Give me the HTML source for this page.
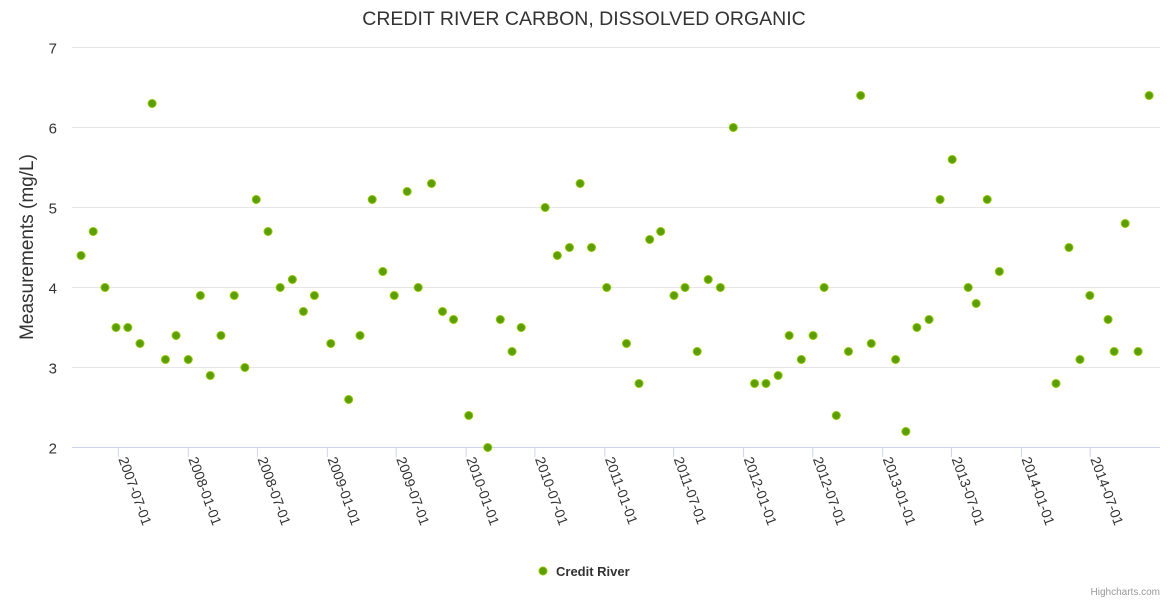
<!DOCTYPE html>
<html><head><meta charset="utf-8"><style>
html,body{margin:0;padding:0;background:#fff;}
svg{display:block;font-family:"Liberation Sans",sans-serif;}
</style></head><body>
<svg id="chart" width="1170" height="600">
<rect width="1170" height="600" fill="#fff"/>
<text x="584" y="25" text-anchor="middle" font-size="19.5" fill="#333">CREDIT RIVER CARBON, DISSOLVED ORGANIC</text>
<g id="grid"></g>
<g id="yaxis"></g>
<g id="xaxis"></g>
<text transform="translate(33,247) rotate(-90)" text-anchor="middle" font-size="19" fill="#333">Measurements (mg/L)</text>
<g id="points"></g>
<g>
<circle cx="543" cy="571" r="4" fill="#5c9e00" stroke="#8cc400" stroke-width="1"/>
<text x="556" y="576" font-size="13" font-weight="bold" fill="#333">Credit River</text>
</g>
<text x="1160" y="595" text-anchor="end" font-size="10" fill="#999">Highcharts.com</text>
</svg>
<script>
const dates=["2007-03-25","2007-04-26","2007-05-27","2007-06-25","2007-07-26","2007-08-27","2007-09-28","2007-11-02","2007-11-30","2008-01-01","2008-02-02","2008-02-28","2008-03-27","2008-05-01","2008-05-29","2008-06-28","2008-07-29","2008-08-30","2008-10-01","2008-10-30","2008-11-28","2009-01-10","2009-02-26","2009-03-28","2009-04-29","2009-05-27","2009-06-26","2009-07-30","2009-08-28","2009-10-02","2009-10-31","2009-11-29","2010-01-08","2010-02-27","2010-04-01","2010-05-02","2010-05-26","2010-07-28","2010-08-29","2010-09-30","2010-10-28","2010-11-27","2011-01-06","2011-02-27","2011-04-01","2011-04-29","2011-05-28","2011-07-02","2011-07-31","2011-09-01","2011-09-30","2011-11-01","2011-12-05","2012-01-30","2012-02-29","2012-04-01","2012-04-30","2012-06-01","2012-07-02","2012-07-31","2012-09-01","2012-10-03","2012-11-04","2012-12-02","2013-02-04","2013-03-03","2013-04-01","2013-05-03","2013-06-01","2013-07-03","2013-08-14","2013-09-04","2013-10-03","2013-11-04","2014-04-02","2014-05-06","2014-06-04","2014-06-30","2014-08-17","2014-09-02","2014-10-01","2014-11-04","2014-12-03"];
const values=[4.4,4.7,4.0,3.5,3.5,3.3,6.3,3.1,3.4,3.1,3.9,2.9,3.4,3.9,3.0,5.1,4.7,4.0,4.1,3.7,3.9,3.3,2.6,3.4,5.1,4.2,3.9,5.2,4.0,5.3,3.7,3.6,2.4,2.0,3.6,3.2,3.5,5.0,4.4,4.5,5.3,4.5,4.0,3.3,2.8,4.6,4.7,3.9,4.0,3.2,4.1,4.0,6.0,2.8,2.8,2.9,3.4,3.1,3.4,4.0,2.4,3.2,6.4,3.3,3.1,2.2,3.5,3.6,5.1,5.6,4.0,3.8,5.1,4.2,2.8,4.5,3.1,3.9,3.6,3.2,4.8,3.2,6.4];
const xTicks=["2007-07-01","2008-01-01","2008-07-01","2009-01-01","2009-07-01","2010-01-01","2010-07-01","2011-01-01","2011-07-01","2012-01-01","2012-07-01","2013-01-01","2013-07-01","2014-01-01","2014-07-01"];
const yTicks=[2,3,4,5,6,7];
const NS="http://www.w3.org/2000/svg";
const base=Date.UTC(2007,6,1);
function xs(d){const p=d.split("-");const t=Date.UTC(+p[0],+p[1]-1,+p[2]);return 118.3+(t-base)/86400000*0.3801;}
function ys(v){return 447.5-(v-2)*80;}
function mk(tag,attrs,parent){const e=document.createElementNS(NS,tag);for(const k in attrs)e.setAttribute(k,attrs[k]);parent.appendChild(e);return e;}
const grid=document.getElementById("grid"),ya=document.getElementById("yaxis"),xa=document.getElementById("xaxis"),pts=document.getElementById("points");
yTicks.forEach(v=>{
 if(v>2){const l=mk("line",{x1:72,x2:1160,y1:ys(v),y2:ys(v),stroke:"#e6e6e6","stroke-width":1},grid);
 
 }
 const t=mk("text",{x:57,y:ys(v)+6,"text-anchor":"end","font-size":15,fill:"#333"},ya);
 t.textContent=v;
 
 
});
const ax=mk("line",{x1:72,x2:1160,y1:447.5,y2:447.5,stroke:"#ccd6eb","stroke-width":1},xa);


xTicks.forEach(d=>{
 const x=xs(d);
 const tk=mk("line",{x1:x,x2:x,y1:447.5,y2:457,stroke:"#ccd6eb","stroke-width":1},xa);
 
 
 const t=mk("text",{transform:"translate("+x+",459) rotate(70)","font-size":14,fill:"#333"},xa);
 t.textContent=d;
 
 
});
dates.forEach((d,i)=>{
 const c=mk("circle",{cx:xs(d),cy:ys(values[i]),r:4,fill:"#5c9e00",stroke:"#8cc400","stroke-width":1},pts);
 
 
});
</script>
</body></html>
